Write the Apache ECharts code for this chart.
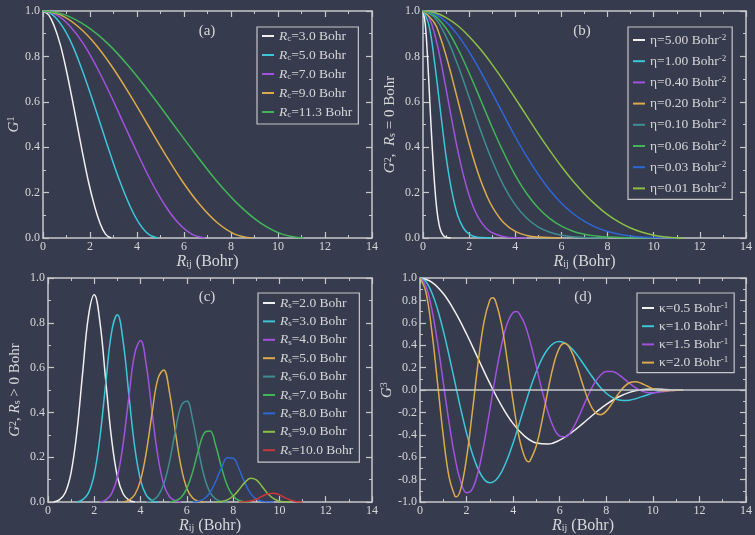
<!DOCTYPE html>
<html>
<head>
<meta charset="utf-8">
<script src="https://cdn.jsdelivr.net/npm/echarts@6/dist/echarts.min.js"></script>
<style>
  html, body { margin: 0; padding: 0; background: #363c4d; }
  #chart { width: 755px; height: 535px; }
</style>
</head>
<body>
<div id="chart"></div>
<script>
// ---- data: [R_ij (Bohr), value] ----

// (a) G1, cutoff function for several Rc
const a_rc30 = [[0,1],[0.24,0.983],[0.48,0.933],[0.73,0.854],[0.97,0.75],[1.21,0.629],[1.45,0.5],[1.69,0.371],[1.93,0.25],[2.18,0.146],[2.42,0.067],[2.66,0.017],[2.9,0]]
const a_rc50 = [[0,1],[0.41,0.983],[0.82,0.933],[1.23,0.854],[1.63,0.75],[2.04,0.629],[2.45,0.5],[2.86,0.371],[3.27,0.25],[3.68,0.146],[4.08,0.067],[4.49,0.017],[4.9,0]]
const a_rc70 = [[0,1],[0.58,0.983],[1.15,0.933],[1.73,0.854],[2.3,0.75],[2.88,0.629],[3.45,0.5],[4.03,0.371],[4.6,0.25],[5.18,0.146],[5.75,0.067],[6.33,0.017],[6.9,0]]
const a_rc90 = [[0,1],[0.74,0.983],[1.48,0.933],[2.23,0.854],[2.97,0.75],[3.71,0.629],[4.45,0.5],[5.19,0.371],[5.93,0.25],[6.68,0.146],[7.42,0.067],[8.16,0.017],[8.9,0]]
const a_rc113 = [[0,1],[0.93,0.983],[1.85,0.933],[2.78,0.854],[3.7,0.75],[4.63,0.629],[5.55,0.5],[6.48,0.371],[7.4,0.25],[8.33,0.146],[9.25,0.067],[10.18,0.017],[11.1,0]]
const a_names = ['Rc=3.0 Bohr', 'Rc=5.0 Bohr', 'Rc=7.0 Bohr', 'Rc=9.0 Bohr', 'Rc=11.3 Bohr']

// (b) G2 with Rs = 0, several eta
const b_eta500 = [[0,1],[0.1,0.94],[0.2,0.79],[0.3,0.59],[0.4,0.4],[0.5,0.24],[0.6,0.125],[0.7,0.058],[0.8,0.024],[0.9,0.009],[1.0,0.003],[1.2,0]]
const b_eta100 = [[0,1],[0.25,0.94],[0.5,0.775],[0.75,0.565],[1,0.36],[1.25,0.205],[1.5,0.1],[1.75,0.044],[2,0.017],[2.25,0.006],[2.5,0.002],[3,0]]
const b_eta040 = [[0,1],[0.25,0.974],[0.5,0.9],[0.75,0.79],[1,0.657],[1.25,0.519],[1.5,0.389],[1.75,0.277],[2,0.187],[2.25,0.12],[2.5,0.073],[2.75,0.042],[3,0.023],[3.5,0.006],[4,0.001],[4.5,0]]
const b_eta020 = [[0,1],[0.5,0.947],[0.75,0.884],[1,0.803],[1.25,0.71],[1.5,0.61],[1.75,0.511],[2,0.416],[2.25,0.329],[2.5,0.253],[2.75,0.19],[3,0.138],[3.5,0.067],[4,0.029],[4.5,0.011],[5,0.004],[6,0]]
const b_eta010 = [[0,1],[0.5,0.971],[1,0.887],[1.5,0.764],[2,0.62],[2.5,0.473],[3,0.34],[3.5,0.23],[4,0.146],[4.5,0.087],[5,0.048],[5.5,0.025],[6,0.012],[7,0.002],[8,0]]
const b_eta006 = [[0,1],[0.5,0.98],[1,0.924],[1.5,0.836],[2,0.727],[2.5,0.608],[3,0.487],[3.5,0.375],[4,0.276],[4.5,0.195],[5,0.132],[5.5,0.085],[6,0.052],[6.5,0.03],[7,0.017],[7.5,0.009],[8,0.004],[9,0.001],[10,0]]
const b_eta003 = [[0,1],[0.5,0.988],[1,0.952],[1.5,0.895],[2,0.82],[2.5,0.733],[3,0.638],[3.5,0.541],[4,0.446],[4.5,0.358],[5,0.279],[5.5,0.21],[6,0.153],[6.5,0.108],[7,0.073],[7.5,0.047],[8,0.029],[8.5,0.017],[9,0.009],[9.5,0.004],[10,0.002],[11,0]]
const b_eta001 = [[0,1],[0.5,0.993],[1,0.971],[1.5,0.936],[2,0.888],[2.5,0.83],[3,0.764],[3.5,0.691],[4,0.615],[4.5,0.537],[5,0.459],[5.5,0.385],[6,0.315],[6.5,0.251],[7,0.194],[7.5,0.145],[8,0.103],[8.5,0.07],[9,0.044],[9.5,0.025],[10,0.012],[10.5,0.004],[11,0.001],[11.3,0]]
const b_names = ['η=5.00 Bohr', 'η=1.00 Bohr', 'η=0.40 Bohr', 'η=0.20 Bohr', 'η=0.10 Bohr', 'η=0.06 Bohr', 'η=0.03 Bohr', 'η=0.01 Bohr']

// (c) G2 with Rs > 0
const c_rs2 = [[0.25,0],[0.5,0.011],[0.75,0.043],[1,0.133],[1.25,0.315],[1.5,0.58],[1.75,0.831],[2,0.925],[2.25,0.799],[2.5,0.536],[2.75,0.28],[3,0.113],[3.25,0.036],[3.5,0.009],[3.75,0]]
const c_rs3 = [[1.25,0],[1.5,0.011],[1.75,0.041],[2,0.125],[2.25,0.294],[2.5,0.536],[2.75,0.76],[3,0.836],[3.25,0.714],[3.5,0.474],[3.75,0.244],[4,0.098],[4.25,0.03],[4.5,0.007],[4.75,0]]
const c_rs4 = [[2.25,0],[2.5,0.01],[2.75,0.038],[3,0.113],[3.25,0.263],[3.5,0.474],[3.75,0.664],[4,0.721],[4.25,0.609],[4.5,0.399],[4.75,0.203],[5,0.08],[5.25,0.024],[5.5,0.006],[5.75,0]]
const c_rs5 = [[3.25,0],[3.5,0.009],[3.75,0.033],[4,0.098],[4.25,0.224],[4.5,0.399],[4.75,0.551],[5,0.59],[5.25,0.49],[5.5,0.316],[5.75,0.158],[6,0.061],[6.25,0.018],[6.5,0.004],[6.75,0]]
const c_rs6 = [[4.25,0],[4.5,0.007],[4.75,0.027],[5,0.08],[5.25,0.18],[5.5,0.316],[5.75,0.429],[6,0.451],[6.25,0.368],[6.5,0.232],[6.75,0.114],[7,0.043],[7.25,0.013],[7.5,0.003],[7.75,0]]
const c_rs7 = [[5.25,0],[5.5,0.006],[5.75,0.021],[6,0.061],[6.25,0.135],[6.5,0.232],[6.75,0.308],[7,0.317],[7.25,0.251],[7.5,0.154],[7.75,0.073],[8,0.027],[8.25,0.007],[8.5,0.002],[8.75,0]]
const c_rs8 = [[6.25,0],[6.5,0.004],[6.75,0.015],[7,0.043],[7.25,0.093],[7.5,0.154],[7.75,0.198],[8,0.196],[8.25,0.149],[8.5,0.087],[8.75,0.039],[9,0.013],[9.25,0.004],[9.5,0.001],[9.75,0]]
const c_rs9 = [[7.25,0],[7.5,0.003],[7.75,0.01],[8,0.027],[8.25,0.055],[8.5,0.087],[8.75,0.106],[9,0.099],[9.25,0.07],[9.5,0.037],[9.75,0.015],[10,0.004],[10.25,0.001],[10.5,0]]
const c_rs10 = [[8.25,0],[8.5,0.002],[8.75,0.005],[9,0.013],[9.25,0.026],[9.5,0.037],[9.75,0.04],[10,0.032],[10.25,0.019],[10.5,0.008],[10.75,0.002],[11,0]]
const c_names = ['Rs=2.0 Bohr', 'Rs=3.0 Bohr', 'Rs=4.0 Bohr', 'Rs=5.0 Bohr', 'Rs=6.0 Bohr', 'Rs=7.0 Bohr', 'Rs=8.0 Bohr', 'Rs=9.0 Bohr', 'Rs=10.0 Bohr']

// (d) G3, several kappa
const d_k05 = [[0,1],[0.5,0.964],[1,0.861],[1.5,0.7],[2,0.5],[2.5,0.279],[3,0.059],[3.5,-0.139],[4,-0.3],[4.5,-0.413],[5,-0.473],[5.5,-0.482],[6,-0.447],[6.5,-0.381],[7,-0.297],[7.5,-0.209],[8,-0.128],[8.5,-0.064],[9,-0.021],[9.5,0.002],[10,0.009],[10.5,0.006],[11,0.001],[11.3,0]]
const d_k10 = [[0,1],[0.25,0.968],[0.5,0.873],[0.75,0.724],[1,0.53],[1.25,0.306],[1.5,0.068],[1.75,-0.168],[2,-0.385],[2.25,-0.569],[2.5,-0.708],[2.75,-0.796],[3,-0.828],[3.25,-0.805],[3.5,-0.732],[3.75,-0.617],[4,-0.472],[4.25,-0.308],[4.5,-0.139],[4.75,0.024],[5,0.167],[5.25,0.285],[5.5,0.369],[5.75,0.419],[6,0.433],[6.25,0.417],[6.5,0.374],[6.75,0.312],[7,0.239],[7.25,0.162],[7.5,0.088],[7.75,0.023],[8,-0.029],[8.25,-0.066],[8.5,-0.087],[8.75,-0.094],[9,-0.09],[9.25,-0.078],[9.5,-0.061],[9.75,-0.044],[10,-0.027],[10.25,-0.014],[10.5,-0.006],[10.75,-0.002],[11,0]]
const d_k15 = [[0,1],[0.25,0.929],[0.5,0.728],[0.75,0.427],[1,0.069],[1.25,-0.291],[1.5,-0.601],[1.75,-0.82],[2,-0.916],[2.25,-0.881],[2.5,-0.726],[2.75,-0.477],[3,-0.176],[3.25,0.131],[3.5,0.4],[3.75,0.596],[4,0.693],[4.15,0.701],[4.25,0.687],[4.5,0.587],[4.75,0.416],[5,0.204],[5.25,-0.012],[5.5,-0.201],[5.75,-0.34],[6,-0.411],[6.25,-0.417],[6.5,-0.365],[6.75,-0.268],[7,-0.151],[7.25,-0.035],[7.5,0.064],[7.75,0.132],[8,0.165],[8.25,0.166],[8.5,0.142],[8.75,0.102],[9,0.059],[9.25,0.021],[9.5,-0.007],[9.75,-0.022],[10,-0.025],[10.25,-0.02],[10.5,-0.012],[10.75,-0.005],[11,-0.001],[11.3,0]]
const d_k20 = [[0,1],[0.25,0.877],[0.5,0.538],[0.75,0.07],[1,-0.408],[1.25,-0.777],[1.5,-0.948],[1.56,-0.953],[1.75,-0.882],[2,-0.604],[2.25,-0.191],[2.5,0.251],[2.75,0.61],[3,0.803],[3.12,0.823],[3.25,0.791],[3.5,0.589],[3.75,0.261],[4,-0.105],[4.25,-0.415],[4.5,-0.599],[4.68,-0.641],[4.75,-0.622],[5,-0.495],[5.25,-0.264],[5.5,0.002],[5.75,0.235],[6,0.381],[6.22,0.417],[6.5,0.348],[6.75,0.208],[7,0.043],[7.25,-0.101],[7.5,-0.193],[7.75,-0.22],[8,-0.188],[8.25,-0.119],[8.5,-0.04],[8.75,0.026],[9,0.065],[9.25,0.074],[9.5,0.061],[9.75,0.036],[10,0.013],[10.25,-0.002],[10.5,-0.007],[10.75,-0.005],[11,-0.002],[11.3,0]]
const d_names = ['κ=0.5 Bohr', 'κ=1.0 Bohr', 'κ=1.5 Bohr', 'κ=2.0 Bohr']

// ---- styling ----
const serif = 'Liberation Serif'
const axisColor = '#c6c8cc'
const textColor = '#d6d7da'
const C = {
  white: '#f0f0f0', cyan: '#3cc6da', purple: '#a252de', gold: '#dcaa4c',
  teal: '#3f8d90', green: '#41b558', blue: '#2f66d8', lime: '#8dbf46', red: '#c8383a'
}

const grids = [
  { left: 43, top: 11, width: 329, height: 227 },
  { left: 423, top: 11, width: 324, height: 227 },
  { left: 48, top: 278, width: 324, height: 226 },
  { left: 420, top: 278, width: 327, height: 227 }
]

// rich text pieces: t plain, i italic, sub / sup shifted by `shift` px
function rich(size, shift) {
  const lh = 14
  const small = Math.round(size * 0.65)
  return {
    t: { fontFamily: serif, fontSize: size, color: textColor, lineHeight: lh },
    i: { fontFamily: serif, fontSize: size, fontStyle: 'italic', color: textColor, lineHeight: lh },
    sub: { fontFamily: serif, fontSize: small, color: textColor, verticalAlign: 'bottom', lineHeight: lh - 2 * shift },
    sup: { fontFamily: serif, fontSize: small, color: textColor, verticalAlign: 'top', lineHeight: lh - 2 * shift }
  }
}

function xAxis(gi, pos) {
  return {
    type: 'value', gridIndex: gi, position: pos, min: 0, max: 14, interval: 2,
    axisLine: { show: true, onZero: false, lineStyle: { color: axisColor, width: 1.5 } },
    axisTick: { show: true, inside: true, length: 6, lineStyle: { color: axisColor, width: 1.2 } },
    minorTick: { show: true, splitNumber: 2, length: 3, lineStyle: { color: axisColor, width: 1 } },
    splitLine: { show: false },
    axisLabel: { show: pos === 'bottom', color: textColor, fontFamily: serif, fontSize: 12, margin: 3, showMinLabel: true, showMaxLabel: true },
    name: pos === 'bottom' ? '{i|R}{sub|ij}{t| (Bohr)}' : '',
    nameLocation: 'middle', nameGap: 13,
    nameTextStyle: { rich: rich(16, 6) }
  }
}

function yAxis(gi, pos, min, name, gap) {
  return {
    type: 'value', gridIndex: gi, position: pos, min: min, max: 1, interval: 0.2,
    axisLine: { show: true, onZero: false, lineStyle: { color: axisColor, width: 1.5 } },
    axisTick: { show: true, inside: true, length: 6, lineStyle: { color: axisColor, width: 1.2 } },
    minorTick: { show: true, splitNumber: 2, length: 3, lineStyle: { color: axisColor, width: 1 } },
    splitLine: { show: false },
    axisLabel: { show: pos === 'left', color: textColor, fontFamily: serif, fontSize: 12, margin: 3, formatter: v => v.toFixed(1) },
    name: pos === 'left' ? name : '',
    nameLocation: 'middle', nameGap: gap,
    nameTextStyle: { rich: rich(15, 5) }
  }
}

function line(name, data, color, gi) {
  return {
    name, type: 'line', xAxisIndex: gi, yAxisIndex: gi, data, color,
    symbol: 'none', showSymbol: false, smooth: 0.4,
    lineStyle: { width: 1.5, color }
  }
}

function legend(names, box, gap, fmt) {
  return {
    data: names, orient: 'vertical', left: box.left, top: box.top,
    padding: box.padding, itemGap: gap, itemWidth: 12, itemHeight: 2, icon: 'rect',
    borderColor: '#c4c6ca', borderWidth: 1.2, selectedMode: false,
    formatter: fmt,
    textStyle: { color: textColor, fontFamily: serif, fontSize: 13.5, rich: rich(13.5, 5) }
  }
}

const series = [
  line(a_names[0], a_rc30, C.white, 0),
  line(a_names[1], a_rc50, C.cyan, 0),
  line(a_names[2], a_rc70, C.purple, 0),
  line(a_names[3], a_rc90, C.gold, 0),
  line(a_names[4], a_rc113, C.green, 0),

  line(b_names[0], b_eta500, C.white, 1),
  line(b_names[1], b_eta100, C.cyan, 1),
  line(b_names[2], b_eta040, C.purple, 1),
  line(b_names[3], b_eta020, C.gold, 1),
  line(b_names[4], b_eta010, C.teal, 1),
  line(b_names[5], b_eta006, C.green, 1),
  line(b_names[6], b_eta003, C.blue, 1),
  line(b_names[7], b_eta001, C.lime, 1),

  line(c_names[0], c_rs2, C.white, 2),
  line(c_names[1], c_rs3, C.cyan, 2),
  line(c_names[2], c_rs4, C.purple, 2),
  line(c_names[3], c_rs5, C.gold, 2),
  line(c_names[4], c_rs6, C.teal, 2),
  line(c_names[5], c_rs7, C.green, 2),
  line(c_names[6], c_rs8, C.blue, 2),
  line(c_names[7], c_rs9, C.lime, 2),
  line(c_names[8], c_rs10, C.red, 2),

  line(d_names[0], d_k05, C.white, 3),
  line(d_names[1], d_k10, C.cyan, 3),
  line(d_names[2], d_k15, C.purple, 3),
  line(d_names[3], d_k20, C.gold, 3)
]

// zero line in (d)
series[22].markLine = {
  silent: true, symbol: 'none', label: { show: false },
  lineStyle: { color: axisColor, width: 1.5, type: 'solid' },
  data: [{ yAxis: 0 }]
}

const panelLabels = [['(a)', 207, 31], ['(b)', 582, 31], ['(c)', 207, 297], ['(d)', 583, 297]]

const chart = echarts.init(document.getElementById('chart'))
chart.setOption({
  backgroundColor: '#363c4d',
  animation: false,
  grid: grids,
  xAxis: [0, 1, 2, 3].map(i => xAxis(i, 'bottom')).concat([0, 1, 2, 3].map(i => xAxis(i, 'top'))),
  yAxis: [
    yAxis(0, 'left', 0, '{i|G}{sup|1}', 19),
    yAxis(1, 'left', 0, '{i|G}{sup|2}{t|,  }{i|R}{sub|s}{t| = 0 Bohr}', 26),
    yAxis(2, 'left', 0, '{i|G}{sup|2}{t|, }{i|R}{sub|s}{t| > 0 Bohr}', 26),
    yAxis(3, 'left', -1, '{i|G}{sup|3}', 24),
    yAxis(0, 'right', 0), yAxis(1, 'right', 0), yAxis(2, 'right', 0), yAxis(3, 'right', -1)
  ],
  legend: [
    legend(a_names, { left: 257, top: 27, padding: [2, 6, 5, 5] }, 5, n => '{i|R}{sub|c}{t|' + n.slice(2) + '}'),
    legend(b_names, { left: 628, top: 27, padding: [6, 6, 4, 5] }, 7.2, n => '{t|' + n + '}{sup|-2}'),
    legend(c_names, { left: 258, top: 293, padding: [3, 6, 5, 5] }, 4.4, n => '{i|R}{sub|s}{t|' + n.slice(2) + '}'),
    legend(d_names, { left: 637, top: 293, padding: [8, 6, 3, 5] }, 4.2, n => '{t|' + n + '}{sup|-1}')
  ],
  graphic: panelLabels.map(p => ({
    type: 'text', x: p[1], y: p[2],
    style: { text: p[0], fill: textColor, font: '15px "Liberation Serif"', align: 'center', verticalAlign: 'middle' }
  })),
  series
})
</script>
</body>
</html>
